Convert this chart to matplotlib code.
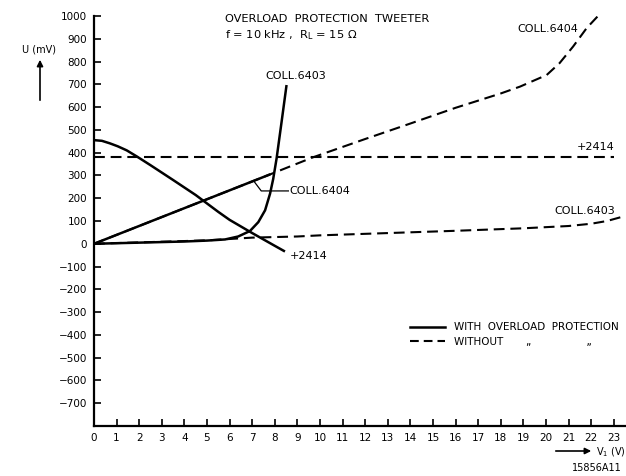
import matplotlib
matplotlib.use('Agg')
import matplotlib.pyplot as plt
from matplotlib.lines import Line2D

plt.rcParams['font.family'] = ['DejaVu Sans']

# ---- data (V1 in V, U in mV) ----
x_2414_with = [0, 0.35, 0.7, 1.05, 1.45, 1.9, 2.5, 3.5, 4.5, 5.5, 6.0, 7.0, 8.0, 8.45]
y_2414_with = [455, 452, 441, 428, 410, 383, 345, 280, 214, 140, 105, 47, -9, -34]

x_6404_with = [0, 7.8]
y_6404_with = [0, 305]

x_6403_with = [0, 2, 4, 5, 5.8, 6.38, 6.9, 7.27, 7.57, 7.79, 7.93, 8.08, 8.3, 8.52]
y_6403_with = [0, 5, 10, 14, 19, 32, 56, 95, 147, 220, 285, 375, 535, 697]

x_2414_without = [0, 23.0]
y_2414_without = [380, 380]

x_6404_without = [0, 7.8, 9.7, 12, 14, 16, 18, 18.85, 20.03, 20.6, 21.2, 21.8, 22.3]
y_6404_without = [0, 305, 380, 460, 528, 597, 660, 690, 741, 793, 866, 947, 1000]

x_6403_without = [0, 5, 7, 9, 10, 13, 16, 19, 21, 22, 22.7, 23.5]
y_6403_without = [0, 15, 27, 32, 37, 47, 57, 68, 78, 88, 100, 122]

x_ticks = list(range(0, 24))
y_ticks = list(range(-700, 1001, 100))

fig = plt.figure(figsize=(6.26, 4.76), dpi=100)
ax = fig.add_axes([94/626, 50/476, 532/626, 410/476])
ax.set_xlim(0, 532/22.6)
ax.set_ylim(-800, 1000)

for s in ['top', 'right']:
    ax.spines[s].set_visible(False)
for s in ['left', 'bottom']:
    ax.spines[s].set_linewidth(1.6)

ax.set_xticks(x_ticks)
ax.set_xticklabels([str(v) for v in x_ticks])
ax.set_yticks(y_ticks)
ax.set_yticklabels([str(v).replace('-', '\u2212') for v in y_ticks])
ax.tick_params(direction='in', length=5, width=1.2, labelsize=7.5, pad=5)

lw = 1.8
dlw = 1.5
dash = (0, (5.2, 2.8))
kw = dict(color='black', solid_joinstyle='round', solid_capstyle='butt')
ax.plot(x_2414_with, y_2414_with, lw=lw, **kw)
ax.plot(x_6404_with, y_6404_with, lw=lw, **kw)
ax.plot(x_6403_with, y_6403_with, lw=lw, **kw)
ax.plot(x_2414_without, y_2414_without, color='black', lw=dlw, linestyle=dash)
ax.plot(x_6404_without, y_6404_without, color='black', lw=dlw, linestyle=dash)
ax.plot(x_6403_without, y_6403_without, color='black', lw=dlw, linestyle=dash)

fs = 8
ax.text(7.6, 737, 'COLL.6403', fontsize=fs, va='center', ha='left')
ax.text(8.65, 232, 'COLL.6404', fontsize=fs, va='center', ha='left')
ax.plot([8.6, 7.4, 7.08], [232, 232, 274], color='black', lw=0.9)
ax.text(8.65, -52, '+2414', fontsize=fs, va='center', ha='left')
ax.text(18.75, 943, 'COLL.6404', fontsize=fs, va='center', ha='left')
ax.text(23.05, 425, '+2414', fontsize=fs, va='center', ha='right')
ax.text(23.05, 142, 'COLL.6403', fontsize=fs, va='center', ha='right')

# title
fig.text(225/626, 1 - 19/476, 'OVERLOAD  PROTECTION  TWEETER', fontsize=8.2,
         va='center', ha='left')
fig.text(225/626, 1 - 35/476, r'f = 10 kHz ,  R$_\mathregular{L}$ = 15 $\Omega$',
         fontsize=8.2, va='center', ha='left')

# axis labels with arrows
fig.text(39/626, 1 - 49/476, 'U (mV)', fontsize=7, va='center', ha='center')
ax.annotate('', xy=(40/626, 1 - 57/476), xytext=(40/626, 1 - 103/476),
            xycoords='figure fraction', textcoords='figure fraction',
            arrowprops=dict(arrowstyle='-|>', color='black', lw=1.2,
                            mutation_scale=9))
ax.annotate('', xy=(594/626, 1 - 451/476), xytext=(553/626, 1 - 451/476),
            xycoords='figure fraction', textcoords='figure fraction',
            arrowprops=dict(arrowstyle='-|>', color='black', lw=1.2,
                            mutation_scale=9))
fig.text(596/626, 1 - 452/476, r'V$_\mathregular{1}$ (V)', fontsize=7,
         va='center', ha='left')
fig.text(572/626, 1 - 468/476, '15856A11', fontsize=7, va='center', ha='left')

# legend
handles = [Line2D([], [], color='black', lw=lw),
           Line2D([], [], color='black', lw=dlw, linestyle=(0, (4.2, 2.4)))]
labels = ['WITH  OVERLOAD  PROTECTION', 'WITHOUT       \u201e                 \u201e']
ax.legend(handles, labels, loc='upper left', bbox_to_anchor=(0.594, 0.253),
          frameon=False, fontsize=7.5, borderpad=0, borderaxespad=0,
          handlelength=3.4, handletextpad=0.8, labelspacing=0.45)

fig.savefig('out.png', dpi=100)
